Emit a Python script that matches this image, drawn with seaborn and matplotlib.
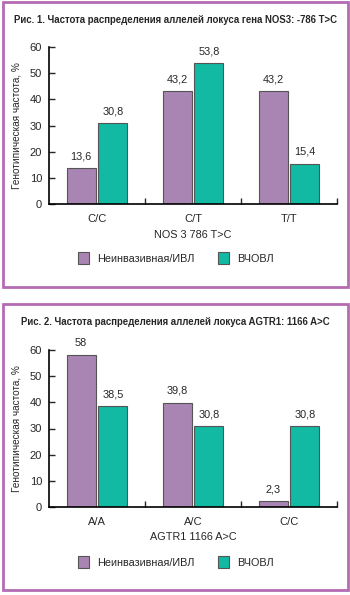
import pandas as pd
import numpy as np
import matplotlib.pyplot as plt
import seaborn as sns
from matplotlib.patches import Rectangle, Patch

# data
groups = ['Неинвазивная/ИВЛ', 'ВЧОВЛ']
nos3_genotypes = ['C/C', 'C/T', 'T/T']
nos3_noninv = [13.6, 43.2, 43.2]
nos3_hfov = [30.8, 53.8, 15.4]
agtr1_genotypes = ['A/A', 'A/C', 'C/C']
agtr1_noninv = [58, 39.8, 2.3]
agtr1_hfov = [38.5, 30.8, 30.8]

titles = ['Рис. 1. Частота распределения аллелей локуса гена NOS3: -786 T>C',
          'Рис. 2. Частота распределения аллелей локуса AGTR1: 1166 A>C']
xlabels = ['NOS 3 786 T>C', 'AGTR1 1166 A>C']
ylabel = 'Генотипическая частота, %'

colors = ['#a985b3', '#12b9a3']
border = '#b46cb4'

sns.set_style('white')
plt.rcParams['font.family'] = ['Liberation Sans', 'DejaVu Sans']

fig = plt.figure(figsize=(3.5, 5.95), dpi=100)
W, H = 350, 595


def fx(px):
    return px / W


def fy(py):
    return 1 - py / H


panels = [
    dict(genos=nos3_genotypes, a=nos3_noninv, b=nos3_hfov, top=47, bot=204,
         title_y=20, xl_y=235, leg_y=258, box=(3, 2, 348, 287)),
    dict(genos=agtr1_genotypes, a=agtr1_noninv, b=agtr1_hfov, top=350, bot=507,
         title_y=322, xl_y=537, leg_y=562, box=(3, 304, 348, 590)),
]

for i, p in enumerate(panels):
    x0, y0, x1, y1 = p['box']
    fig.patches.append(Rectangle((fx(x0), fy(y1)), fx(x1) - fx(x0), fy(y0) - fy(y1),
                                 transform=fig.transFigure, fill=False,
                                 edgecolor=border, linewidth=2))
    fig.text(0.5, fy(p['title_y']), titles[i], ha='center', va='center',
             fontsize=6.9, fontweight='bold')

    df = pd.DataFrame({
        'genotype': p['genos'] * 2,
        'group': [groups[0]] * 3 + [groups[1]] * 3,
        'value': list(p['a']) + list(p['b']),
    })
    ax = fig.add_axes([fx(49), fy(p['bot']), fx(337) - fx(49), fy(p['top']) - fy(p['bot'])])
    sns.barplot(data=df, x='genotype', y='value', hue='group', order=p['genos'],
                hue_order=groups, palette=colors, saturation=1, width=0.66, gap=0.08,
                edgecolor='#555555', linewidth=0.8, ax=ax, legend=False)
    for c in ax.containers:
        ax.bar_label(c, labels=[f'{v:g}'.replace('.', ',') for v in c.datavalues],
                     padding=5, fontsize=7.8)
    ax.set_xlim(-0.5, 2.5)
    ax.set_ylim(0, 60)
    ax.set_yticks(range(0, 61, 10))
    ax.set_xticks([0.5, 1.5, 2.5], minor=True)
    ax.tick_params(axis='x', which='major', length=0, labelsize=8, pad=7)
    ax.tick_params(axis='x', which='minor', direction='in', length=4, width=1, bottom=True)
    ax.tick_params(axis='y', direction='in', length=4, width=1, labelsize=8, pad=5, left=True)
    ax.set_xlabel('')
    ax.set_ylabel(ylabel, fontsize=7.2)
    ax.yaxis.set_label_coords(-0.095, 0.5)
    for s in ['top', 'right']:
        ax.spines[s].set_visible(False)
    for s in ['left', 'bottom']:
        ax.spines[s].set_color('black')
        ax.spines[s].set_linewidth(1.2)
    fig.text(fx(193), fy(p['xl_y']), xlabels[i], ha='center', va='center', fontsize=7.8)

    handles = [Patch(facecolor=colors[k], edgecolor='#555555', linewidth=0.8) for k in range(2)]
    fig.legend(handles, groups, loc='center', bbox_to_anchor=(fx(176), fy(p['leg_y'])),
               ncol=2, frameon=False, fontsize=7.8, handlelength=1.0, handleheight=1.2,
               columnspacing=2.1, handletextpad=0.8)

fig.savefig('out.png', dpi=100)
